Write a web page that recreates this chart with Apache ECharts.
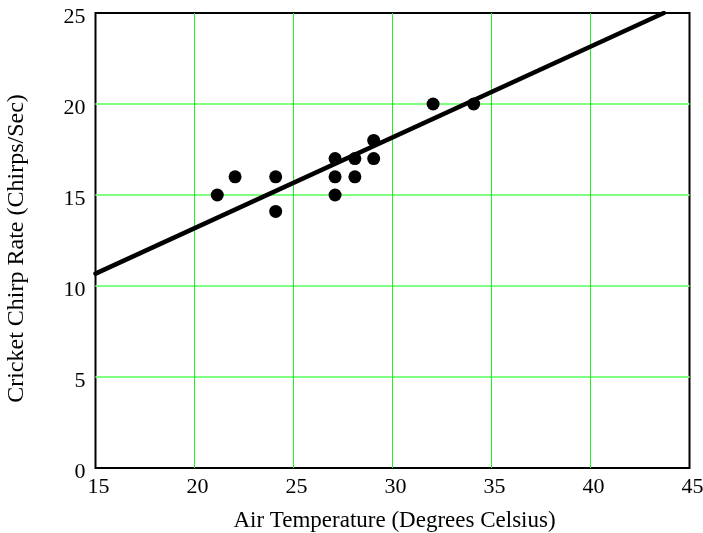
<!DOCTYPE html>
<html>
<head>
<meta charset="utf-8">
<script src="https://cdn.jsdelivr.net/npm/echarts@6/dist/echarts.min.js"></script>
<style>html,body{margin:0;padding:0;background:#fff}#c{width:703px;height:533px}</style>
</head>
<body>
<div id="c"></div>
<script>
const tempC = [21.15, 22.05, 24.1, 24.1, 27.1, 27.1, 27.1, 28.1, 28.1, 29.05, 29.05, 32.05, 34.1];
const chirps = [15, 16, 16, 14.1, 17, 16, 15, 17, 16, 18, 17, 20, 20];
const fitX = [15, 43.7];
const fitY = [10.68, 25];
const xTicks = [15, 20, 25, 30, 35, 40, 45];
const yTicks = [0, 5, 10, 15, 20, 25];

const FONT = 'Liberation Serif';
const chart = echarts.init(document.getElementById('c'));
chart.setOption({
  animation: false,
  backgroundColor: '#fff',
  grid: { left: 95.5, right: 13.5, top: 13, bottom: 65, outerBoundsMode: 'none', containLabel: false, show: true, borderColor: '#000', borderWidth: 2, backgroundColor: 'transparent' },
  xAxis: {
    type: 'value', min: xTicks[0], max: xTicks[xTicks.length - 1], interval: 5,
    name: 'Air Temperature (Degrees Celsius)', nameLocation: 'middle', nameGap: 41,
    nameTextStyle: { fontFamily: FONT, fontSize: 23, color: '#000', padding: [0, 0, 0, 4] },
    axisLine: { show: false }, axisTick: { show: false },
    axisLabel: { fontFamily: FONT, fontSize: 22, color: '#000', margin: 8, padding: [0, 0, 0, 6] },
    splitLine: { show: true, showMinLine: false, showMaxLine: false, lineStyle: { color: '#22ee22', width: 1 } }
  },
  yAxis: {
    type: 'value', min: yTicks[0], max: yTicks[yTicks.length - 1], interval: 5,
    name: 'Cricket Chirp Rate (Chirps/Sec)', nameLocation: 'middle', nameGap: 67,
    nameTextStyle: { fontFamily: FONT, fontSize: 24, color: '#000', padding: [0, 16, 0, 0] },
    axisLine: { show: false }, axisTick: { show: false },
    axisLabel: { fontFamily: FONT, fontSize: 22, color: '#000', margin: 10, verticalAlign: 'top', lineHeight: 8 },
    splitLine: { show: true, showMinLine: false, showMaxLine: false, lineStyle: { color: '#80ff80', width: 2 } }
  },
  series: [
    {
      type: 'line', data: fitX.map((x, i) => [x, fitY[i]]),
      symbol: 'none', lineStyle: { color: '#000', width: 4.5, cap: 'round' }, z: 3
    },
    {
      type: 'scatter', data: tempC.map((x, i) => [x, chirps[i]]),
      symbol: 'circle', symbolSize: 13, itemStyle: { color: '#000', opacity: 1 }, z: 4
    }
  ]
});
</script>
</body>
</html>
